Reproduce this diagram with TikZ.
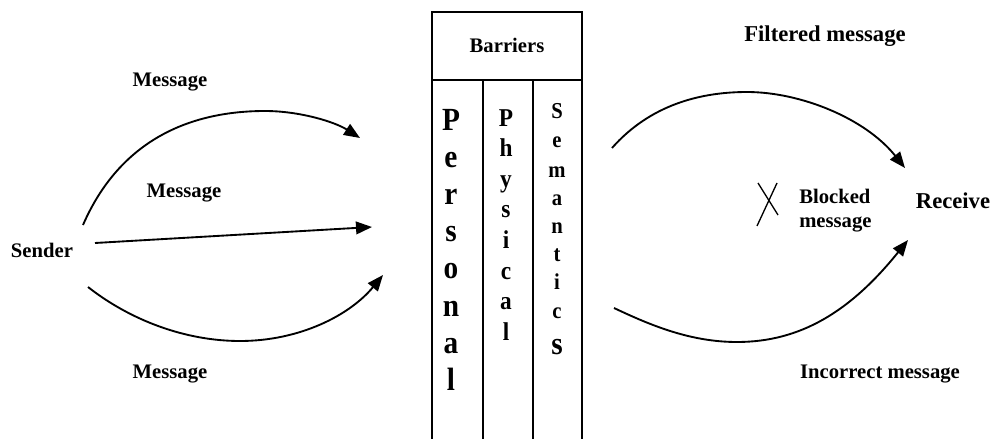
\documentclass[tikz,border=0pt]{standalone}
\usepackage{fontspec}
\usepackage{graphicx}
\setmainfont{Liberation Serif}
\usetikzlibrary{arrows.meta}
\begin{document}
\begin{tikzpicture}[x=0.75pt,y=-0.75pt,
  lbl/.style={font=\bfseries\fontsize{15.5}{18}\selectfont, inner sep=0pt, align=left},
  biglbl/.style={font=\bfseries\fontsize{17}{20}\selectfont, inner sep=0pt},
  perslet/.style={font=\bfseries\fontsize{22}{22}\selectfont, inner sep=0pt, anchor=base},
  physlet/.style={font=\bfseries\fontsize{17.5}{17.5}\selectfont, inner sep=0pt, anchor=base},
  semlet/.style={font=\bfseries\fontsize{15.5}{15.5}\selectfont, inner sep=0pt, anchor=base},
  arr/.style={line width=1.4pt, -{Triangle[length=12pt,width=9.5pt]}},
  wall/.style={line width=1.5pt},
  cross/.style={line width=1pt}]
\useasboundingbox (0,0) rectangle (993,439);

% barrier box
\draw[wall] (432,439) -- (432,12) -- (582,12) -- (582,439);
\draw[wall] (432,80) -- (582,80);
\draw[wall] (483,80) -- (483,439);
\draw[wall] (533,80) -- (533,439);
\node[lbl] (barriers) at (507,45) {Barriers};

% column letters
\foreach \l [count=\i from 0] in {P,e,r,s,o,n,a,l}
  \node[perslet] (pers\i) at (451,130+37.2*\i) {\scalebox{1}[1.1]{\l}};
\foreach \l [count=\i from 0] in {P,h,y,s,i,c,a,l}
  \node[physlet] (phys\i) at (506,126+30.6*\i) {\scalebox{1}[1.1]{\l}};
\foreach \l/\yy [count=\i from 0] in {S/118,e/147,m/177,a/205,n/233,t/261,i/289,c/318}
  \node[semlet] (sem\i) at (557,\yy) {\scalebox{1}[1.1]{\l}};
\node[perslet] (sem8) at (557,354) {\scalebox{1}[1.1]{s}};

% left labels
\node[lbl] (sender) at (42,250) {Sender};
\node[lbl] (msgtop) at (170,82) {Message};
\node[lbl] (msgmid) at (184,193) {Message};
\node[lbl] (msgbot) at (170,374) {Message};

% right labels
\node[biglbl] (filtered) at (825,36) {Filtered message};
\node[lbl, anchor=west] (blocked) at (799,211) {Blocked\\message};
\node[biglbl] (receive) at (953,201) {Receive};
\node[lbl] (incorrect) at (880,374) {Incorrect message};

% connector end points
\coordinate (ls1) at (83,225);
\coordinate (le1) at (360,138);
\coordinate (ls2) at (95,243);
\coordinate (le2) at (372,227);
\coordinate (ls3) at (88,287);
\coordinate (le3) at (383,275);
\coordinate (rs1) at (612,148);
\coordinate (re1) at (905,168);
\coordinate (rs2) at (614,308);
\coordinate (re2) at (908,240);

% left arrows
\draw[arr] (ls1) .. controls (120,140) and (190,111) .. (265,111)
                 .. controls (300,111) and (335,122) .. (le1);
\draw[arr] (ls2) -- (le2);
\draw[arr] (ls3) .. controls (130,320) and (185,341) .. (240,341)
                 .. controls (300,341) and (350,315) .. (le3);

% right arrows
\draw[arr] (rs1) .. controls (650,105) and (700,92) .. (747,92)
                 .. controls (800,92) and (865,118) .. (re1);
\draw[arr] (rs2) .. controls (650,325) and (690,342) .. (737,342)
                 .. controls (800,342) and (850,312) .. (re2);

% blocked cross
\draw[cross] (758,183) -- (778,215);
\draw[cross] (777,183) -- (757,226);
\end{tikzpicture}
\end{document}
